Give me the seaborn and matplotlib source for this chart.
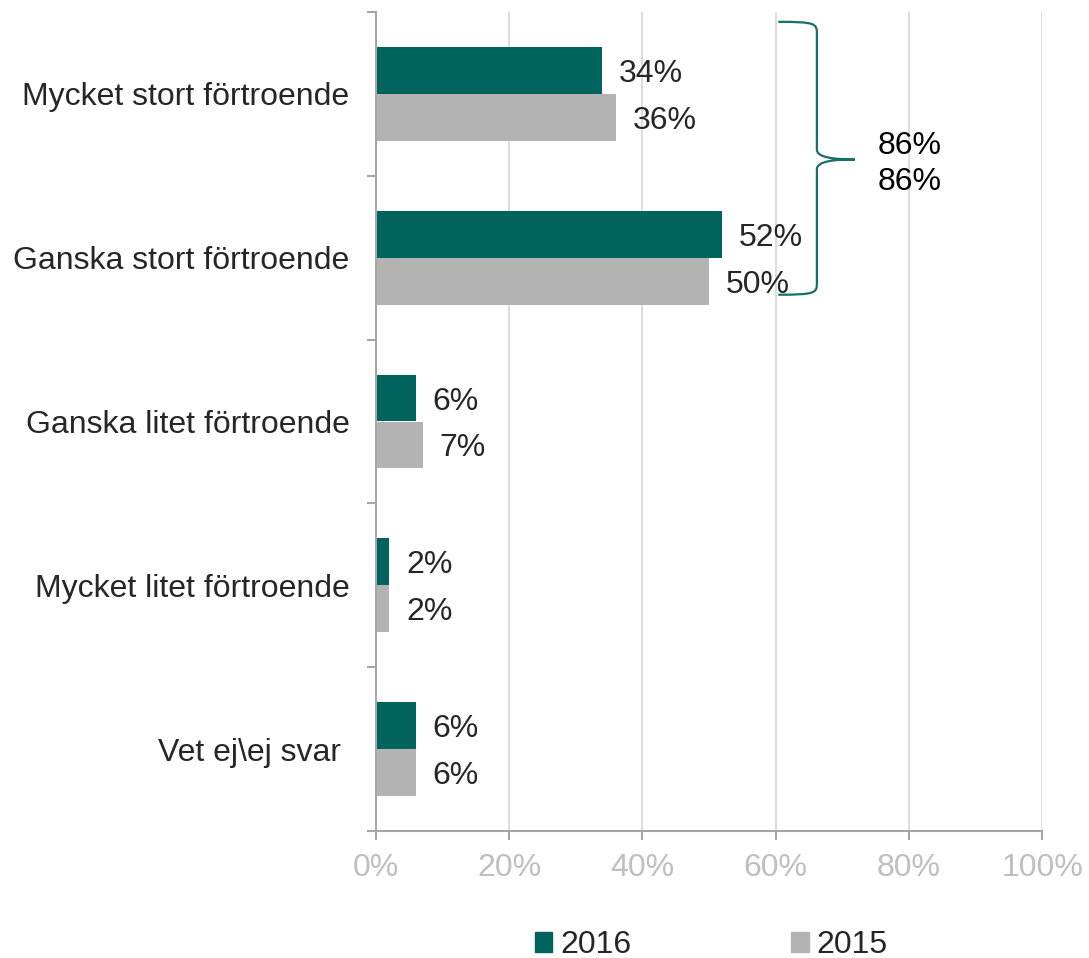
import matplotlib
matplotlib.use("Agg")
import matplotlib.pyplot as plt
import seaborn as sns
import pandas as pd
import numpy as np
from matplotlib.path import Path
from matplotlib.patches import PathPatch

categories = ["Mycket stort förtroende", "Ganska stort förtroende", "Ganska litet förtroende",
              "Mycket litet förtroende", "Vet ej\\ej svar "]
years = ["2016", "2015"]
values_2016 = [34, 52, 6, 2, 6]
values_2015 = [36, 50, 7, 2, 6]
total_2016 = 86
total_2015 = 86
xticks = [0, 20, 40, 60, 80, 100]

C16 = "#00635E"
C15 = "#B3B3B3"
TXT = "#262626"
FS = 23

sns.set_theme(style="white")
plt.rcParams["font.family"] = ["Liberation Sans", "DejaVu Sans"]

df = pd.DataFrame({
    "cat": categories * 2,
    "year": [years[0]] * 5 + [years[1]] * 5,
    "val": values_2016 + values_2015,
})

fig = plt.figure(figsize=(10.89, 9.58), dpi=100)
ax = fig.add_axes([376 / 1089, 1 - 831 / 958, 666 / 1089, (831 - 12) / 958])

sns.barplot(data=df, y="cat", x="val", hue="year", orient="h", palette=[C16, C15],
            width=0.573, ax=ax, legend=True, saturation=1, linewidth=0)

ax.set_xlim(0, 100)
ax.set_ylim(4.5, -0.5)
ax.set_xlabel("")
ax.set_ylabel("")

# value labels
for cont in ax.containers:
    texts = ax.bar_label(cont, labels=[f"{v:.0f}%" for v in cont.datavalues], padding=12,
                         fontsize=FS, color=TXT)
    for t in texts:
        t.set_verticalalignment("center_baseline")

# grid
ax.set_xticks(xticks)
ax.set_xticklabels([f"{t}%" for t in xticks])
for t in xticks[1:]:
    ax.axvline(t, color="#D9D9D9", lw=1.3, zorder=0)

for s in ["top", "right"]:
    ax.spines[s].set_visible(False)
for s in ["left", "bottom"]:
    ax.spines[s].set_color("#A6A6A6")
    ax.spines[s].set_linewidth(1.5)

ax.tick_params(axis="x", colors="#BFBFBF", labelsize=FS, length=6.5, width=1.5,
               direction="out", pad=9, bottom=True)
ax.tick_params(axis="x", which="major", color="#A6A6A6")
ax.tick_params(axis="y", which="major", length=0, pad=19, labelsize=FS, labelcolor=TXT, left=False)
ax.set_yticks(np.arange(-0.5, 5.0, 1.0), minor=True)
ax.tick_params(axis="y", which="minor", length=6.5, width=1.5, color="#A6A6A6", left=True)

# brace (annotation for total)
x0, xv, xt = 60.4, 66.2, 71.9
ytop, ymid, ybot = -0.44, 0.40, 1.226
verts = [
    (x0, ytop), (xv - 0.3, ytop), (xv, ytop + 0.01), (xv, ytop + 0.07),
    (xv, ymid - 0.06),
    (xv, ymid - 0.01), (xt - 3, ymid), (xt, ymid),
    (xt - 3, ymid), (xv, ymid + 0.01), (xv, ymid + 0.06),
    (xv, ybot - 0.07),
    (xv, ybot - 0.01), (xv - 0.3, ybot), (x0, ybot),
]
codes = [Path.MOVETO, Path.CURVE4, Path.CURVE4, Path.CURVE4,
         Path.LINETO,
         Path.CURVE4, Path.CURVE4, Path.CURVE4,
         Path.CURVE4, Path.CURVE4, Path.CURVE4,
         Path.LINETO,
         Path.CURVE4, Path.CURVE4, Path.CURVE4]
ax.add_patch(PathPatch(Path(verts, codes), fill=False, edgecolor="#17706B", lw=1.6,
                       clip_on=False, zorder=5))
ax.text(75.3, ymid + 0.03, f"{total_2016}%\n{total_2015}%", fontsize=FS, color="black",
        va="center", ha="left", linespacing=1.25, clip_on=False)

# legend
ax.get_legend().remove()
handles = [plt.Rectangle((0, 0), 1, 1, color=C16), plt.Rectangle((0, 0), 1, 1, color=C15)]
fig.legend(handles, years, loc="center", bbox_to_anchor=(0.653, 1 - 945 / 958), ncol=2,
           frameon=False, fontsize=FS, handlelength=0.55, handleheight=0.6,
           handletextpad=0.25, columnspacing=5.0, labelcolor=TXT)

fig.savefig("out.png", dpi=100)
